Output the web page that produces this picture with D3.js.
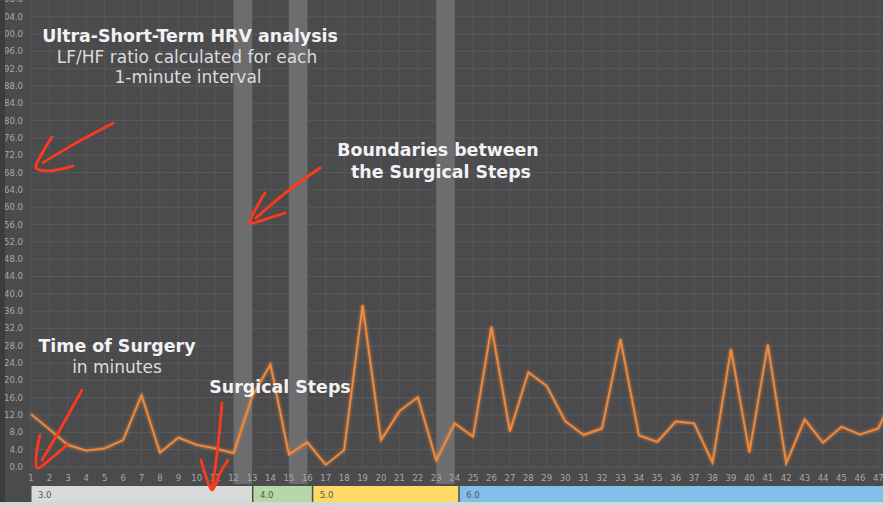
<!DOCTYPE html>
<html>
<head>
<meta charset="utf-8">
<script src="https://cdn.jsdelivr.net/npm/d3@7"></script>
<style>
  body { margin: 0; background: #d6d6d6; }
  svg { display: block; }
</style>
</head>
<body>
<div id="chart"></div>
<script>
// LF/HF ratio per 1-minute interval (minute 1..48)
var minutes = d3.range(1, 49);
var lfhf = [12.2, 8.7, 5.1, 3.8, 4.3, 6.2, 16.6, 3.3, 6.8, 5.1, 4.3, 3.2,
            16.2, 23.7, 2.9, 5.7, 0.5, 3.9, 37.4, 6.2, 12.9, 16.1, 1.5, 10.1,
            7.0, 32.4, 8.2, 21.9, 18.7, 10.6, 7.4, 8.9, 29.6, 7.3, 5.8, 10.5,
            10.1, 1.0, 27.3, 3.3, 28.3, 0.8, 11.0, 5.6, 9.3, 7.5, 8.9, 18.0];

// boundaries between surgical steps (minute ranges)
var boundaries = [[12, 13], [15, 16], [23, 24]];

// surgical steps shown in the bar under the axis
var stepLabels = ["3.0", "4.0", "5.0", "6.0"];
var stepStart = [1, 13.05, 16.3, 24.25];
var stepEnd = [13.05, 16.3, 24.25, 48.5];
var stepColors = ["#d9d9d9", "#b6d7a8", "#ffd966", "#80bfe8"];

var yTicks = d3.range(0, 112, 4);
var xTicks = d3.range(1, 48);

var width = 885, height = 506;

var x = d3.scaleLinear().domain([1, 47]).range([31, 31 + 46 * 18.42]);
var y = d3.scaleLinear().domain([0, 108]).range([467, 467 - 108 * 4.33]);

var svg = d3.select("#chart").append("svg")
    .attr("width", width)
    .attr("height", height);

var defs = svg.append("defs");
defs.append("clipPath").attr("id", "plotclip")
  .append("rect").attr("x", 0).attr("y", 0).attr("width", 883).attr("height", 502);
var glow = defs.append("filter").attr("id", "glow")
    .attr("x", "-10%").attr("y", "-10%").attr("width", "120%").attr("height", "120%");
glow.append("feGaussianBlur").attr("stdDeviation", 1.6).attr("result", "b");
var merge = glow.append("feMerge");
merge.append("feMergeNode").attr("in", "b");
merge.append("feMergeNode").attr("in", "SourceGraphic");

var g = svg.append("g").attr("clip-path", "url(#plotclip)");

// background
g.append("rect").attr("x", 0).attr("y", 0).attr("width", 883).attr("height", 502)
  .attr("fill", "#4b4b4d");

// grid
g.selectAll(".hgrid").data(yTicks).enter().append("line")
    .attr("x1", x(1) - 1).attr("x2", 883)
    .attr("y1", function(d) { return y(d); })
    .attr("y2", function(d) { return y(d); })
    .attr("stroke", "#5a5a5c").attr("stroke-width", 1);
g.selectAll(".vgrid").data(d3.range(1, 49)).enter().append("line")
    .attr("x1", function(d) { return x(d); })
    .attr("x2", function(d) { return x(d); })
    .attr("y1", 0).attr("y2", y(0))
    .attr("stroke", "#565658").attr("stroke-width", 1);

// boundary bands
g.selectAll(".band").data(boundaries).enter().append("rect")
    .attr("x", function(d) { return x(d[0]); })
    .attr("width", function(d) { return x(d[1]) - x(d[0]); })
    .attr("y", 0).attr("height", 484)
    .attr("fill", "#6d6d6f");

// axis labels
g.selectAll(".ylab").data(yTicks).enter().append("text")
    .attr("x", 23).attr("y", function(d) { return y(d) + 3; })
    .attr("text-anchor", "end")
    .attr("font-family", "DejaVu Sans, sans-serif").attr("font-size", 8.5)
    .attr("fill", "#a8a8a8")
    .text(function(d) { return d3.format(".1f")(d); });
g.append("rect").attr("x", 0).attr("y", 0).attr("width", 5).attr("height", 502)
  .attr("fill", "#3c3c3e");
g.selectAll(".xlab").data(xTicks).enter().append("text")
    .attr("x", function(d) { return x(d); }).attr("y", 481)
    .attr("text-anchor", "middle")
    .attr("font-family", "DejaVu Sans, sans-serif").attr("font-size", 8.5)
    .attr("fill", "#a8a8a8")
    .text(function(d) { return d; });

// step bar
var steps = stepLabels.map(function(l, i) {
  return {label: l, from: stepStart[i], to: stepEnd[i], color: stepColors[i]};
});
g.selectAll(".step").data(steps).enter().append("rect")
    .attr("x", function(d) { return x(d.from) + 0.5; })
    .attr("width", function(d) { return x(d.to) - x(d.from) - 1.5; })
    .attr("y", 486).attr("height", 16)
    .attr("fill", function(d) { return d.color; });
g.selectAll(".steplab").data(steps).enter().append("text")
    .attr("x", function(d) { return x(d.from) + 7; }).attr("y", 497.5)
    .attr("font-family", "DejaVu Sans, sans-serif").attr("font-size", 8.5)
    .attr("fill", "#555")
    .text(function(d) { return d.label; });

// the LF/HF line
var line = d3.line()
    .x(function(d, i) { return x(minutes[i]); })
    .y(function(d) { return y(d); });
g.append("path").datum(lfhf)
    .attr("d", line)
    .attr("fill", "none")
    .attr("stroke", "#f28a3c")
    .attr("stroke-width", 1.8)
    .attr("stroke-linejoin", "miter")
    .attr("filter", "url(#glow)");

// annotations
var notes = [
  {t: "Ultra-Short-Term HRV analysis", x: 190, y: 42, bold: true},
  {t: "LF/HF ratio calculated for each", x: 187, y: 63, bold: false},
  {t: "1-minute interval", x: 188, y: 83, bold: false},
  {t: "Boundaries between", x: 438, y: 156, bold: true},
  {t: "the Surgical Steps", x: 441, y: 178, bold: true},
  {t: "Time of Surgery", x: 117, y: 352, bold: true},
  {t: "in minutes", x: 117, y: 373, bold: false},
  {t: "Surgical Steps", x: 280, y: 393, bold: true}
];
g.selectAll(".note").data(notes).enter().append("text")
    .attr("x", function(d) { return d.x; })
    .attr("y", function(d) { return d.y; })
    .attr("text-anchor", "middle")
    .attr("font-family", "DejaVu Sans, sans-serif")
    .attr("font-size", function(d) { return d.bold ? 17.4 : 17; })
    .attr("font-weight", function(d) { return d.bold ? "bold" : "normal"; })
    .attr("fill", function(d) { return d.bold ? "#f2f2f2" : "#dcdcdc"; })
    .text(function(d) { return d.t; });

// red hand-drawn arrows, in [minute, value] units
var arrows = [
  [[5.45, 79.4], [3.6, 75.2], [1.65, 70.3]],
  [[2.14, 76.2], [1.6, 72.4], [1.27, 69.1], [1.9, 68.4], [3.28, 69.5]],
  [[16.69, 69.05], [14.9, 63.6], [13.21, 57.5]],
  [[13.7, 63.3], [13.2, 59.6], [12.89, 56.35], [13.7, 57.2], [14.79, 58.66]],
  [[3.77, 17.8], [2.7, 9.6], [1.6, 1.6]],
  [[1.49, 7.4], [1.3, 3.2], [1.33, -0.23], [2.1, 2.0], [2.95, 5.08]],
  [[11.37, 14.8], [11.15, 5.0], [10.83, -5.3]],
  [[10.23, 1.6], [10.5, -2.2], [10.83, -5.3], [11.25, -1.6], [11.69, 1.6]]
];
var arrowLine = d3.line()
    .x(function(d) { return x(d[0]); })
    .y(function(d) { return y(d[1]); })
    .curve(d3.curveCatmullRom);
g.selectAll(".arrow").data(arrows).enter().append("path")
    .attr("d", arrowLine)
    .attr("fill", "none")
    .attr("stroke", "#ff3a1c")
    .attr("stroke-width", 2.8)
    .attr("stroke-linecap", "round")
    .attr("stroke-linejoin", "round");
</script>
</body>
</html>
